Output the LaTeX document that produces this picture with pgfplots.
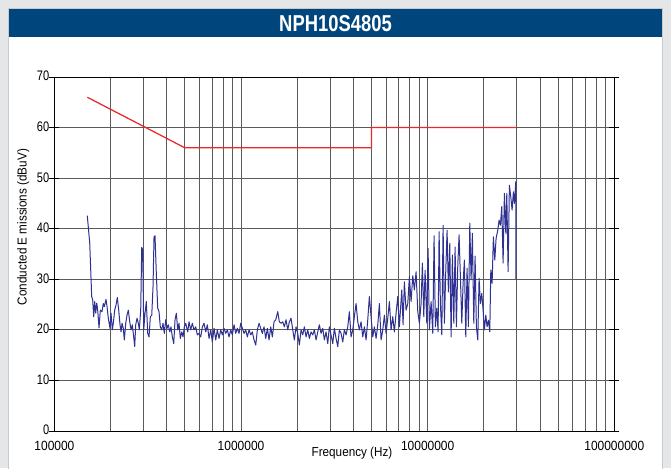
\documentclass[border=0pt]{standalone}
\usepackage{fontspec}
\setmainfont{Liberation Sans}
\newfontfamily\ticknarrow[FakeStretch=0.8]{Liberation Sans}
\newfontfamily\labelfont[FakeStretch=0.9]{Liberation Sans}
\newfontfamily\titlefont[FakeStretch=0.8]{Liberation Sans}
\usepackage{pgfplots}
\pgfplotsset{compat=1.18}

\definecolor{titlebar}{HTML}{00457C}
\definecolor{trace}{HTML}{2E3192}
\definecolor{limit}{HTML}{E8282B}
\definecolor{gridc}{HTML}{5A5A5A}
\definecolor{outerbg}{HTML}{E5E6E7}
\definecolor{panelborder}{HTML}{C9CACB}

% measured emission trace (Hz, dBuV)
\pgfplotstableread{
f dB
150000 42.6
154600 37.2
158400 26.6
160400 25.9
162400 22.6
164400 25.6
166500 23.3
168600 25.3
170600 23.9
173400 20.4
176200 23.9
179900 23.6
182800 25.2
185100 24.6
189000 26.0
191400 24.6
194500 22.3
198600 20.3
201100 23.3
204300 20.0
206800 21.3
210400 23.9
213800 24.9
217300 26.4
221100 23.9
224700 21.0
227500 19.6
230300 21.3
234000 20.3
236900 18.0
241100 21.3
244900 22.9
248900 23.9
253300 21.6
257300 20.0
261500 21.0
266000 18.6
269300 16.7
272700 21.0
277100 22.3
281600 21.3
285100 20.0
290000 23.9
293700 36.3
297300 35.8
301000 20.0
305900 23.3
310800 25.6
316200 19.3
321400 18.6
326600 22.6
332300 22.9
337600 28.5
341800 38.4
346000 38.6
351600 31.2
357700 24.3
363500 23.6
369400 20.6
375800 20.0
381900 21.3
388100 19.3
394800 22.0
401200 20.3
407700 21.0
414800 19.6
421500 20.6
428300 18.6
435900 17.3
442900 22.0
450100 23.3
457900 20.0
465300 21.3
472800 18.3
481000 19.6
488800 18.6
496700 20.6
505400 21.3
518000 19.6
526400 21.6
537500 20.0
548200 21.3
559800 20.0
571700 20.6
583100 19.0
595500 19.3
608100 18.6
620200 20.6
633400 21.3
646900 19.6
659800 21.0
673800 18.3
688100 20.0
701800 17.6
716700 20.3
731900 18.0
746400 20.0
762200 18.3
778400 20.0
793900 19.0
810800 20.3
827900 19.3
844500 20.0
862400 18.6
880700 20.0
898300 19.0
917400 21.0
936700 19.3
955400 20.3
975600 19.3
996300 21.3
1016200 20.3
1037700 19.3
1059700 20.0
1080800 18.6
1103800 20.0
1127200 19.0
1149600 19.6
1174000 18.0
1198900 17.0
1222800 20.0
1248700 21.3
1275200 20.3
1300800 19.3
1328200 20.6
1356400 18.3
1383500 20.3
1412700 18.0
1442700 20.6
1471400 18.6
1502700 21.6
1534500 22.0
1572900 23.6
1604200 21.6
1638200 21.3
1673000 21.6
1706300 20.6
1742500 22.0
1779400 20.0
1814900 21.6
1853500 22.3
1892700 20.0
1930400 18.0
1971300 20.6
2013100 19.3
2053200 17.0
2096800 20.0
2141200 19.0
2183900 20.6
2230300 18.6
2277700 20.0
2323000 18.3
2372200 19.6
2422500 19.0
2470800 20.0
2523200 18.0
2576700 19.6
2628100 21.0
2683800 19.3
2740300 20.3
2795300 18.0
2854600 19.6
2915200 17.3
2973200 20.6
3036300 19.0
3100500 17.3
3162500 20.3
3229900 18.3
3298000 16.7
3363800 20.0
3435100 19.3
3507900 17.6
3577700 20.0
3653700 19.0
3731400 20.6
3805600 23.6
3886200 18.6
3968600 20.0
4047700 22.6
4133500 25.2
4221200 21.6
4305200 20.0
4396600 21.6
4490000 18.6
4579700 20.6
4676400 18.0
4775400 22.0
4870500 26.6
4974100 22.6
5079600 18.6
5181000 20.6
5291000 18.3
5403000 21.0
5510600 25.2
5627600 18.0
5747000 20.0
5861300 22.9
5985600 19.3
6112800 22.3
6234600 25.6
6366600 20.0
6501300 22.6
6631300 19.6
6771700 23.3
6915400 26.6
7053200 20.6
7265300 27.9
7383000 21.0
7502200 29.5
7661300 23.9
7824000 25.2
7979700 30.5
8148900 25.6
8321600 30.7
8486900 27.9
8667500 31.5
8851000 23.6
9027800 21.3
9218700 25.2
9368100 33.2
9531500 22.6
9686200 31.8
9891000 21.3
10051000 36.1
10214000 20.0
10430000 25.6
10651000 19.3
10823000 38.6
10998000 20.6
11190000 24.3
11371000 19.6
11513000 39.4
11699000 25.2
11902000 19.0
12095000 40.7
12290000 21.3
12504000 31.8
12707000 39.7
12912000 27.5
13137000 37.1
13350000 18.6
13566000 34.8
13802000 21.3
14025000 36.4
14252000 20.6
14500000 32.8
14734000 38.8
14972000 30.5
15234000 21.3
15480000 29.2
15731000 33.8
16004000 18.6
16263000 32.2
16526000 20.6
16814000 41.1
17085000 29.9
17362000 39.1
17665000 21.3
17950000 34.6
18240000 20.6
18558000 18.0
18859000 30.2
19163000 25.2
19498000 27.2
19813000 23.9
20133000 20.0
20484000 22.9
20814000 20.6
21152000 21.9
21520000 19.6
21787000 31.8
22140000 29.2
22497000 38.4
22891000 33.8
23258000 38.1
23753000 39.7
24137000 41.7
24528000 40.7
24955000 44.4
25358000 33.2
25768000 47.0
26217000 39.1
26543000 47.0
26972000 31.5
27407000 48.6
27885000 46.3
28336000 43.7
28795000 47.3
29151000 45.0
29660000 49.3
29660000 30.0
}\emission

\begin{document}
\begin{tikzpicture}[x=1pt,y=1pt]
\fill[outerbg] (0,0) rectangle (671,468);
\filldraw[fill=white,draw=panelborder,line width=0.8pt] (8.5,-2) rectangle (662.5,459.5);
\fill[titlebar] (9.3,431) rectangle (661.7,458.7);
\node[text=white,inner sep=0pt] at (335.5,444.5)
  {\titlefont\bfseries\fontsize{23}{23}\selectfont NPH10S4805};

\begin{axis}[
  at={(54.4pt,37pt)}, anchor=south west,
  scale only axis, width=559.9pt, height=354pt,
  xmode=log, xmin=1e5, xmax=1e8, ymin=0, ymax=70,
  xtick={1e5,1e6,1e7,1e8},
  xticklabels={100000,1000000,10000000,100000000},
  minor xtick={2e5,3e5,4e5,5e5,6e5,7e5,8e5,9e5,
               2e6,3e6,4e6,5e6,6e6,7e6,8e6,9e6,
               2e7,3e7,4e7,5e7,6e7,7e7,8e7,9e7},
  ytick={0,10,...,70},
  grid=both,
  major grid style={gridc,line width=0.9pt},
  minor grid style={gridc,line width=0.9pt},
  axis line style={black,line width=0.9pt},
  tick align=center, major tick length=10pt, minor tick length=0pt,
  xtick style={draw=none}, ytick style={black,line width=0.8pt},
  /pgf/number format/assume math mode=true,
  xticklabel style={font=\labelfont\fontsize{13.3}{13.3}\selectfont,
                    anchor=north, inner sep=0pt, yshift=-4.7pt},
  yticklabel style={font=\ticknarrow\fontsize{13.8}{13.8}\selectfont,
                    anchor=east, inner sep=0pt, yshift=0.8pt},
  clip=false,
]
\addplot[limit, line width=1.25pt] coordinates {
  (150000,66) (500000,56) (5000000,56) (5000000,60) (30000000,60)};
\addplot[trace, line width=1pt, line join=round] table[x=f,y=dB] {\emission};
\end{axis}

\node[anchor=base,inner sep=0pt] at (352,12)
  {\labelfont\fontsize{13}{13}\selectfont Frequency (Hz)};
\node[anchor=base,rotate=90,inner sep=0pt] at (26.5,241)
  {\labelfont\fontsize{13}{13}\selectfont Conducted E missions (dBuV)};

\pgfresetboundingbox
\path (0,0) rectangle (671,468);
\end{tikzpicture}
\end{document}
